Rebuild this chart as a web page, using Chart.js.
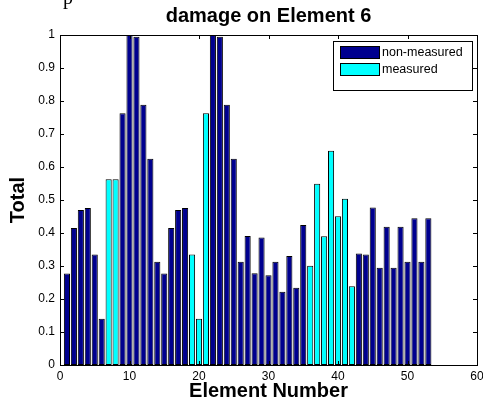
<!DOCTYPE html>
<html>
<head>
<meta charset="utf-8">
<script src="https://cdn.jsdelivr.net/npm/chart.js@4.4.1/dist/chart.umd.min.js"></script>
<style>
  html, body { margin: 0; padding: 0; background: #fff; overflow: hidden; }
  #wrap { position: relative; width: 483px; height: 409px; }
  #fragment { position: absolute; left: 63px; top: -14px; font: 20px "Liberation Serif", serif; line-height: 23px; }
</style>
</head>
<body>
<div id="wrap">
  <canvas id="myChart" width="483" height="409"></canvas>
  <div id="fragment">p</div>
</div>
<script>
// Element numbers and their total damage index
const elements = [1, 2, 3, 4, 5, 6, 7, 8, 9, 10, 11, 12, 13, 14, 15, 16, 17, 18, 19, 20,
    21, 22, 23, 24, 25, 26, 27, 28, 29, 30, 31, 32, 33, 34, 35, 36, 37, 38, 39, 40,
    41, 42, 43, 44, 45, 46, 47, 48, 49, 50, 51, 52, 53];
const totals = [0.277, 0.415, 0.470, 0.476, 0.335, 0.140, 0.563, 0.563, 0.763, 1.000,
    0.995, 0.789, 0.625, 0.313, 0.277, 0.415, 0.470, 0.476, 0.335, 0.140,
    0.763, 1.000, 0.995, 0.789, 0.625, 0.313, 0.391, 0.278, 0.386, 0.272,
    0.313, 0.222, 0.330, 0.234, 0.424, 0.301, 0.549, 0.390, 0.649, 0.451,
    0.504, 0.239, 0.338, 0.335, 0.477, 0.295, 0.419, 0.295, 0.419, 0.313,
    0.445, 0.313, 0.445];
const measuredElements = [7, 8, 19, 20, 21, 36, 37, 38, 39, 40, 41, 42];

// tick labels
const xTickValues = [0, 10, 20, 30, 40, 50, 60];
const yTickValues = [0, 0.1, 0.2, 0.3, 0.4, 0.5, 0.6, 0.7, 0.8, 0.9, 1];

const nonMeasuredData = [];
const measuredData = [];
elements.forEach((el, i) => {
    const point = { x: el, y: totals[i] };
    if (measuredElements.includes(el)) measuredData.push(point);
    else nonMeasuredData.push(point);
});

Chart.defaults.font.family = "'Liberation Sans', Arial, sans-serif";
Chart.defaults.color = '#000';

// MATLAB style box, inward ticks on all sides, and legend inside the axes
const matlabFrame = {
    id: 'matlabFrame',
    afterDraw(chart) {
        const { ctx, chartArea: a, scales } = chart;
        const len = 4;
        ctx.save();
        ctx.strokeStyle = '#000';
        ctx.lineWidth = 1;
        ctx.beginPath();
        scales.x.ticks.forEach(t => {
            const px = Math.round(scales.x.getPixelForValue(t.value)) + 0.5;
            ctx.moveTo(px, a.bottom); ctx.lineTo(px, a.bottom - len);
            ctx.moveTo(px, a.top); ctx.lineTo(px, a.top + len);
        });
        scales.y.ticks.forEach(t => {
            const py = Math.round(scales.y.getPixelForValue(t.value)) + 0.5;
            ctx.moveTo(a.left, py); ctx.lineTo(a.left + len, py);
            ctx.moveTo(a.right, py); ctx.lineTo(a.right - len, py);
        });
        ctx.stroke();
        ctx.strokeRect(Math.round(a.left) + 0.5, Math.round(a.top) + 0.5,
            Math.round(a.right - a.left), Math.round(a.bottom - a.top));

        // legend
        const lx = 333, ly = 41, lw = 139, lh = 49;
        ctx.fillStyle = '#fff';
        ctx.fillRect(lx, ly, lw, lh);
        ctx.strokeRect(lx + 0.5, ly + 0.5, lw, lh);
        ctx.font = "12.5px 'Liberation Sans', Arial, sans-serif";
        ctx.textBaseline = 'middle';
        chart.data.datasets.forEach((ds, i) => {
            const sy = ly + 5 + i * 17;
            ctx.fillStyle = ds.backgroundColor;
            ctx.fillRect(340, sy, 39, 12);
            ctx.strokeRect(340.5, sy + 0.5, 39, 12);
            ctx.fillStyle = '#000';
            ctx.fillText(ds.label, 382, sy + 6.5);
        });
        ctx.restore();
    }
};

const ctx = document.getElementById('myChart').getContext('2d');
const myChart = new Chart(ctx, {
    type: 'bar',
    data: {
        datasets: [{
            label: 'non-measured',
            data: nonMeasuredData,
            backgroundColor: '#00008F',
            borderColor: '#000',
            borderWidth: 1,
            borderSkipped: false
        }, {
            label: 'measured',
            data: measuredData,
            backgroundColor: '#00FFFF',
            borderColor: '#000',
            borderWidth: 1,
            borderSkipped: false
        }]
    },
    options: {
        responsive: false,
        animation: false,
        events: [],
        grouped: false,
        barPercentage: 0.88,
        categoryPercentage: 1,
        layout: { padding: { top: 0, right: 0, bottom: 0, left: 0 } },
        plugins: {
            legend: { display: false },
            tooltip: { enabled: false },
            title: {
                display: true,
                text: 'damage on Element 6',
                fullSize: false,
                color: '#000',
                font: { size: 20, weight: 'bold' },
                padding: { top: 4, bottom: 7 }
            }
        },
        scales: {
            x: {
                type: 'linear',
                offset: false,
                min: 0,
                max: 60,
                grid: { display: false, drawTicks: false },
                border: { display: false },
                afterBuildTicks: scale => { scale.ticks = xTickValues.map(v => ({ value: v })); },
                afterFit: scale => { scale.height = 44; scale.paddingRight = 6; },
                ticks: { font: { size: 12 }, padding: 4, maxRotation: 0, autoSkip: false },
                title: {
                    display: true,
                    text: 'Element Number',
                    font: { size: 20, weight: 'bold' },
                    padding: { top: 6, bottom: 6 }
                }
            },
            y: {
                min: 0,
                max: 1,
                grid: { display: false, drawTicks: false },
                border: { display: false },
                afterBuildTicks: scale => { scale.ticks = yTickValues.map(v => ({ value: v })); },
                afterFit: scale => { scale.width = 60; },
                ticks: { font: { size: 12 }, padding: 5, autoSkip: false, callback: v => String(v) },
                title: {
                    display: true,
                    text: 'Total',
                    font: { size: 20, weight: 'bold' },
                    padding: { top: 6, bottom: 6 }
                }
            }
        }
    },
    plugins: [matlabFrame]
});
</script>
</body>
</html>
